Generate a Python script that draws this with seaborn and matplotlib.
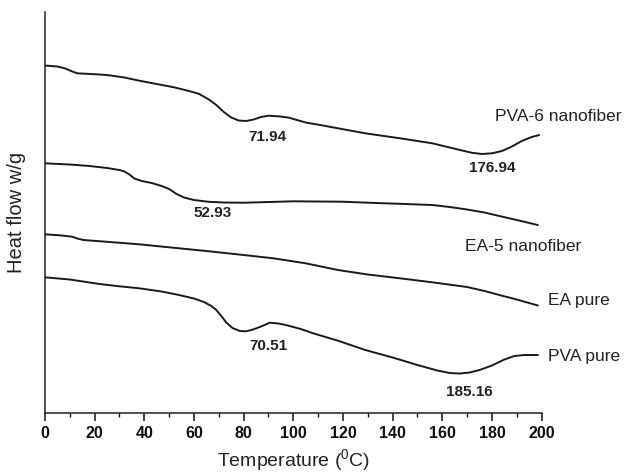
import matplotlib
matplotlib.use("Agg")
import matplotlib.pyplot as plt
import seaborn as sns
import pandas as pd
import numpy as np

# ---- data (heat flow in arbitrary offset units) ----
pva6_T = [0, 5, 8, 11, 13, 20, 25, 32, 38, 45, 52, 58, 62, 66, 69, 72, 75, 78, 81, 84,
          87, 90, 94, 98, 105, 112, 118, 129, 143, 156, 163, 168, 172, 176, 180, 184,
          188, 192, 196, 199]
pva6_H = [347.5, 346.5, 344.7, 341.5, 339.7, 338.8, 338, 335.5, 332.3, 329, 325.7, 322,
          319.2, 313.5, 308, 301, 295.5, 292.5, 292, 293.5, 296, 297.3, 296.7, 295.5,
          290.5, 287.5, 284.7, 279.7, 274.7, 269.7, 265.5, 262.5, 260.2, 259, 259.7,
          262, 266.5, 272, 276, 278]

ea5_T = [0, 10, 18, 25, 30, 32, 34, 36, 39, 43, 47, 50, 53, 56, 60, 66, 72, 80, 90, 100,
         110, 120, 130, 143, 156, 163, 170, 177, 183, 190, 198.5]
ea5_H = [249.7, 248.5, 247, 245, 243, 241.5, 238.5, 234.5, 232, 230, 227, 224, 219,
         215.5, 213, 211.2, 210.5, 210.3, 211, 211.7, 211.5, 211.3, 210.3, 209.2, 208,
         206, 203.5, 200.5, 197, 193, 188]

ea_T = [0, 6, 11, 13, 15.5, 25, 38, 50, 65, 80, 92, 105, 118, 130, 143, 156, 165, 170,
        177, 183, 190, 198.5]
ea_H = [178.7, 177.7, 176.3, 174.5, 173, 171.2, 168.7, 165.7, 162, 158, 154.7, 149.7,
        143, 138.5, 134.7, 130.7, 127.7, 126, 122, 118, 113.5, 107.5]

pva_T = [0, 10, 22, 30, 38, 47, 54, 60, 64, 67, 69, 71, 73, 75.5, 78.5, 81, 84, 87, 90.5,
         94, 97, 103, 108, 118, 129, 140, 150, 158, 163, 167, 171, 175, 180, 185, 189,
         193, 198.5]
pva_H = [135.7, 133.5, 129, 126.7, 124.7, 121.5, 118, 114.5, 111, 107, 103, 97, 90.5, 85,
         82, 81.7, 83.7, 86.5, 90.3, 89.5, 88, 84, 79.7, 72.3, 63, 55.5, 48, 42.5, 40,
         39.5, 40.5, 43, 47.5, 53.5, 57, 58, 58]

series_names = ["PVA-6 nanofiber", "EA-5 nanofiber", "EA pure", "PVA pure"]
peak_labels = ["71.94", "176.94", "52.93", "70.51", "185.16"]
x_ticks = [0, 20, 40, 60, 80, 100, 120, 140, 160, 180, 200]

frames = []
for name, T, H in zip(series_names, [pva6_T, ea5_T, ea_T, pva_T],
                      [pva6_H, ea5_H, ea_H, pva_H]):
    frames.append(pd.DataFrame({"T": T, "H": H, "sample": name}))
df = pd.concat(frames, ignore_index=True)

# ---- style ----
sns.set_style("ticks")
plt.rcParams["font.family"] = ["Liberation Sans", "DejaVu Sans"]
plt.rcParams["mathtext.fontset"] = "custom"
plt.rcParams["mathtext.rm"] = "Liberation Sans"
plt.rcParams["mathtext.it"] = "Liberation Sans:italic"

fig = plt.figure(figsize=(6.32, 4.75), dpi=100)
ax = fig.add_axes([0.0712, 0.1305, 0.857 - 0.0712, 0.9747 - 0.1305])

sns.lineplot(data=df, x="T", y="H", hue="sample", units="sample", estimator=None,
             sort=False, palette=["#1a1a1a"] * 4, linewidth=1.4, legend=False, ax=ax)

ax.set_xlim(0, 200)
ax.set_ylim(0, 401)
ax.set_xticks(x_ticks)
ax.set_xticks(np.arange(10, 200, 20), minor=True)
ax.set_yticks([])
for lab in ax.get_xticklabels():
    lab.set_fontweight("bold")
ax.tick_params(axis="x", which="major", direction="out", length=6, width=1.1,
               labelsize=11.5, pad=3, colors="#111111")
ax.tick_params(axis="x", which="minor", direction="out", length=3, width=1.0,
               colors="#111111")
for s in ["top", "right"]:
    ax.spines[s].set_visible(False)
for s in ["left", "bottom"]:
    ax.spines[s].set_linewidth(1.1)
    ax.spines[s].set_color("#222222")

ax.set_xlabel("Temperature ($^{\\mathrm{0}}$C)", fontsize=14, labelpad=5, color="#222222")
ax.set_ylabel("Heat flow w/g", fontsize=14.5, labelpad=14, color="#222222")

# peak values
peak_pos = [(89.7, 276.3), (180.1, 245.5), (67.7, 199.7), (89.9, 67), (170.7, 21.3)]
for txt, (x, y) in zip(peak_labels, peak_pos):
    ax.text(x, y, txt, ha="center", va="center", fontsize=11, fontweight="bold",
            color="#222222")

# series names
name_pos = [(181.1, 296.3), (169.0, 166.3), (202.4, 113.0), (202.4, 56.3)]
for txt, (x, y) in zip(series_names, name_pos):
    ax.text(x, y, txt, ha="left", va="center", fontsize=12.5, color="#222222",
            clip_on=False)

fig.savefig("out.png", dpi=100)
